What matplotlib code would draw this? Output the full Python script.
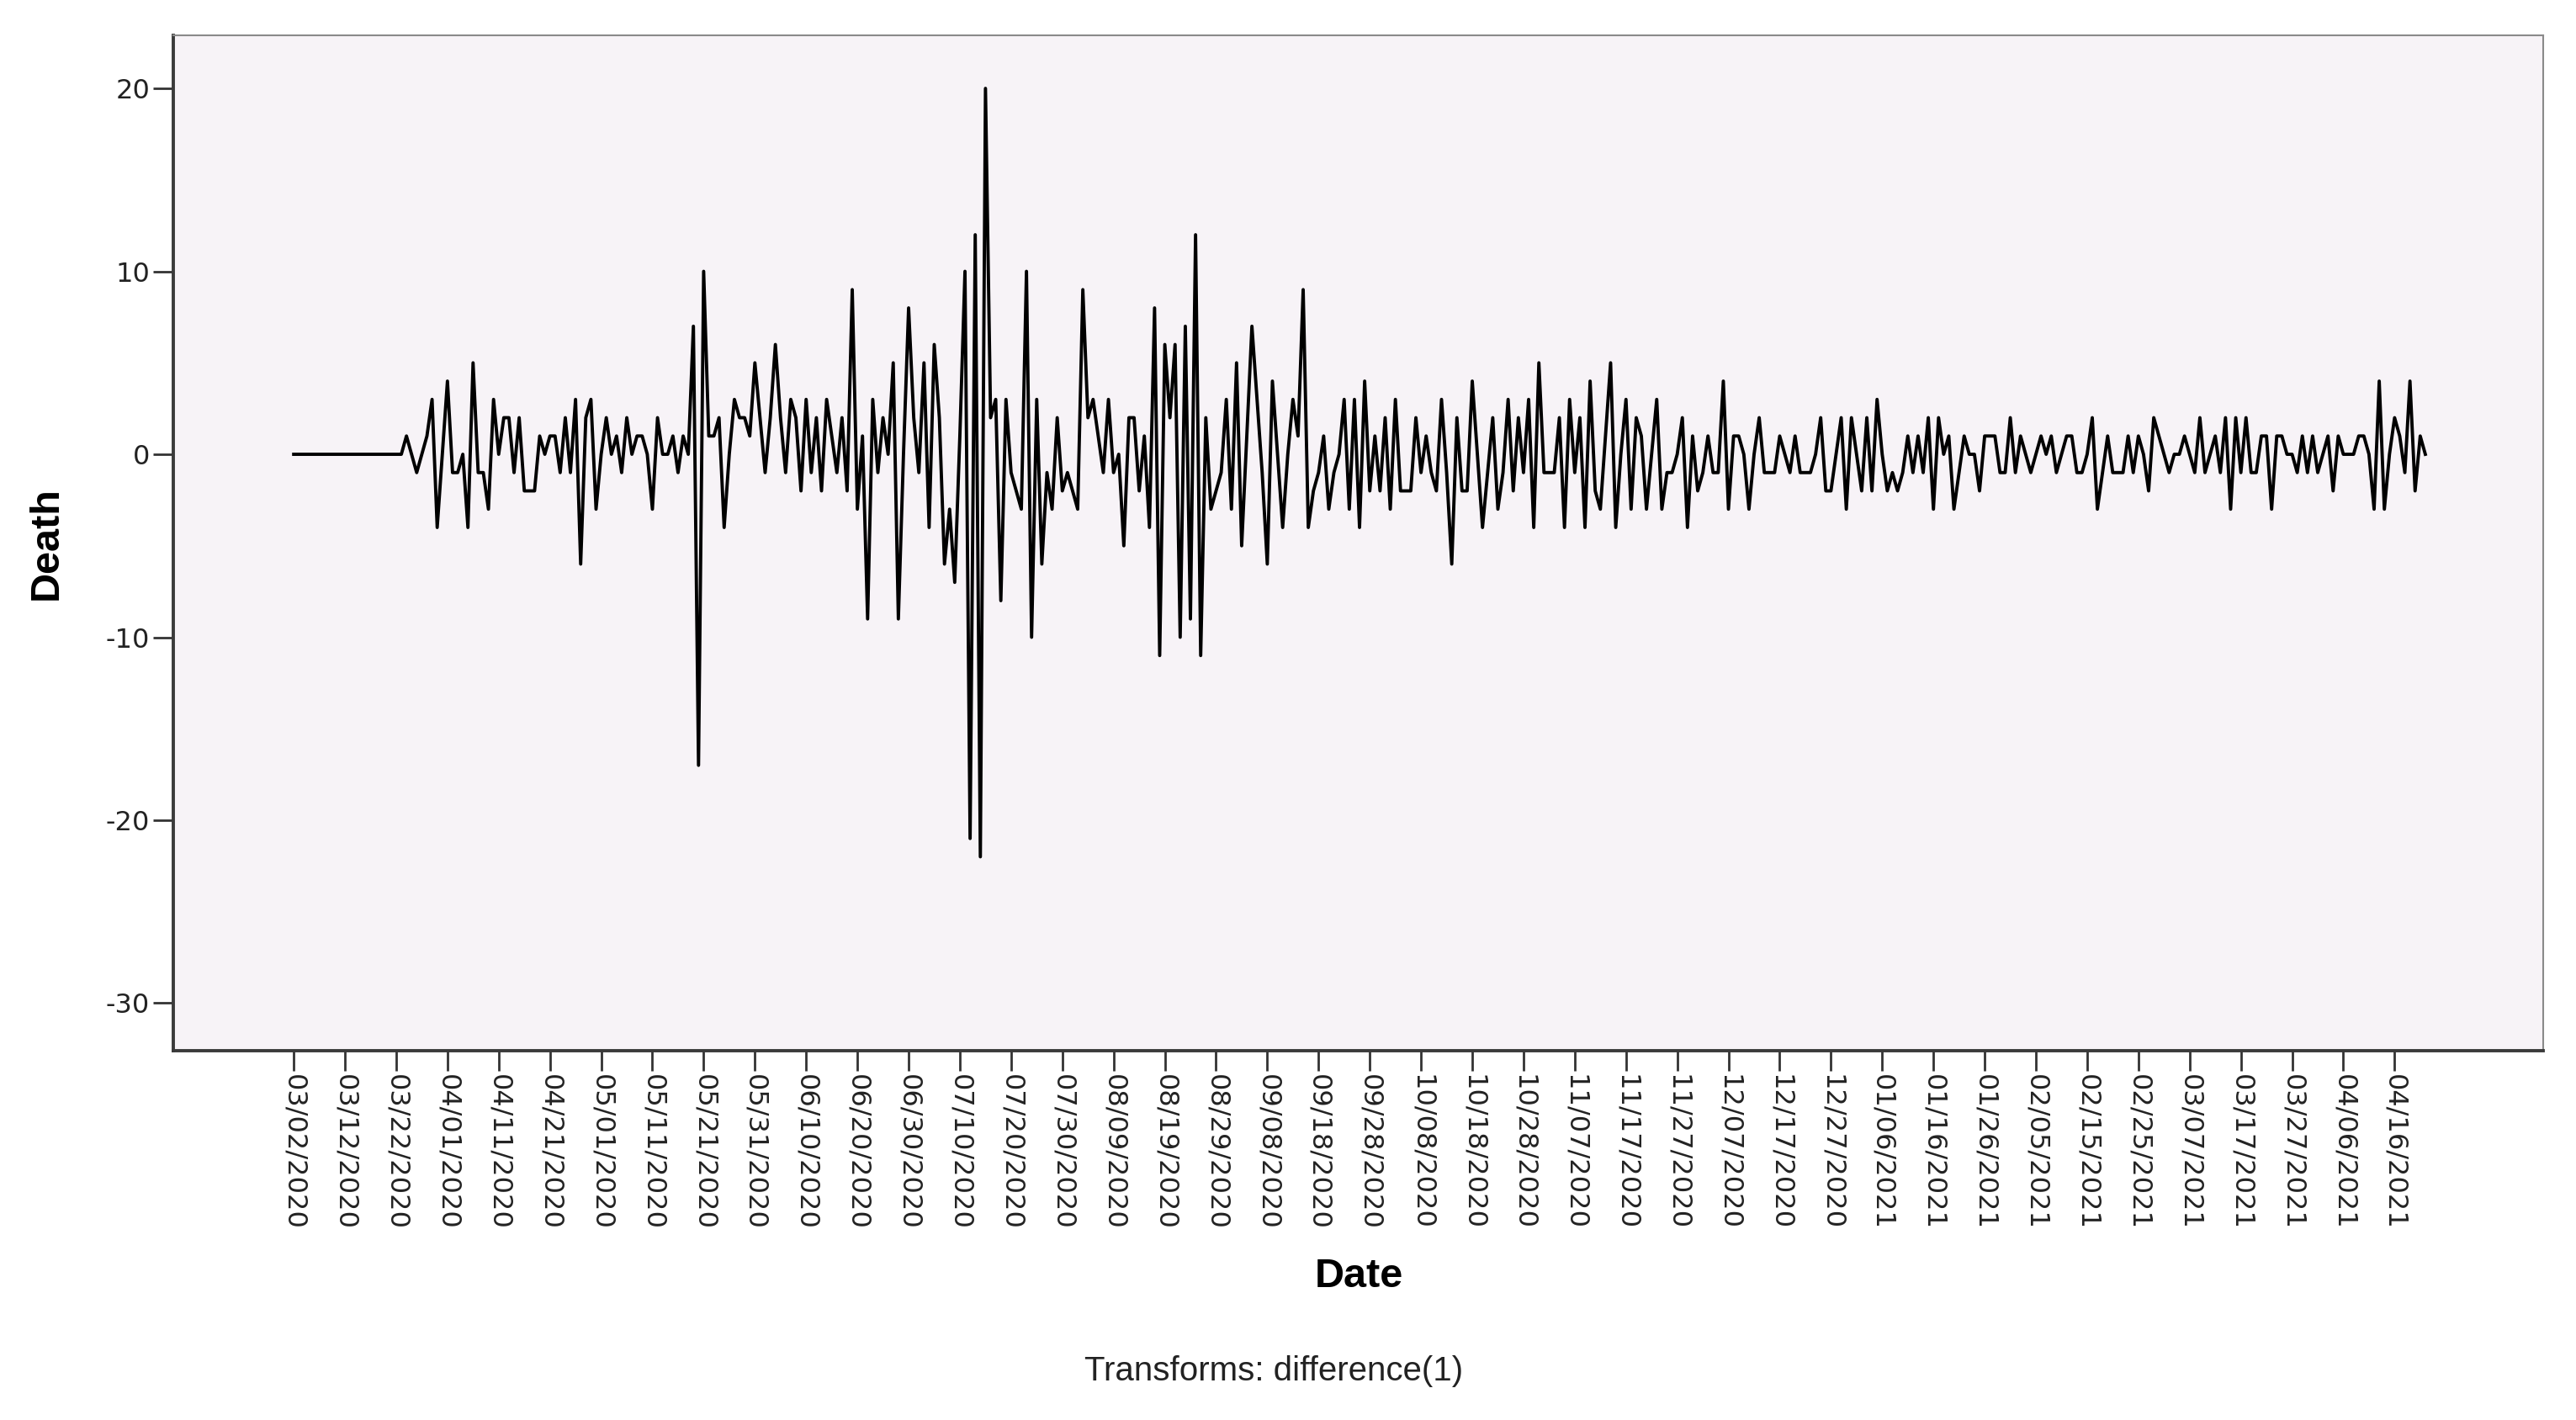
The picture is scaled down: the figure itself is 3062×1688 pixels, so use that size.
# first difference of daily deaths, redrawn as a time series line
import pandas as pd
import matplotlib.pyplot as plt

START_DATE = '2020-03-02'
LAST_TICK = '2021-04-16'

# daily values (one per day starting 03/02/2020)
death_diff = [
    0, 0, 0, 0, 0, 0, 0, 0, 0, 0, 0, 0, 0, 0, 0, 0, 0, 0, 0, 0, 0, 0,
    1, 0, -1, 0, 1, 3, -4, 0, 4, -1, -1, 0, -4, 5, -1, -1, -3, 3, 0, 2,
    2, -1, 2, -2, -2, -2, 1, 0, 1, 1, -1, 2, -1, 3, -6, 2, 3, -3, 0, 2,
    0, 1, -1, 2, 0, 1, 1, 0, -3, 2, 0, 0, 1, -1, 1, 0, 7, -17, 10, 1,
    1, 2, -4, 0, 3, 2, 2, 1, 5, 2, -1, 2, 6, 2, -1, 3, 2, -2, 3, -1,
    2, -2, 3, 1, -1, 2, -2, 9, -3, 1, -9, 3, -1, 2, 0, 5, -9, 0, 8, 2,
    -1, 5, -4, 6, 2, -6, -3, -7, 1, 10, -21, 12, -22, 20, 2, 3, -8, 3, -1, -2,
    -3, 10, -10, 3, -6, -1, -3, 2, -2, -1, -2, -3, 9, 2, 3, 1, -1, 3, -1, 0,
    -5, 2, 2, -2, 1, -4, 8, -11, 6, 2, 6, -10, 7, -9, 12, -11, 2, -3, -2, -1,
    3, -3, 5, -5, 1, 7, 3, -1, -6, 4, 0, -4, 0, 3, 1, 9, -4, -2, -1, 1,
    -3, -1, 0, 3, -3, 3, -4, 4, -2, 1, -2, 2, -3, 3, -2, -2, -2, 2, -1, 1,
    -1, -2, 3, -1, -6, 2, -2, -2, 4, 0, -4, -1, 2, -3, -1, 3, -2, 2, -1, 3,
    -4, 5, -1, -1, -1, 2, -4, 3, -1, 2, -4, 4, -2, -3, 1, 5, -4, 0, 3, -3,
    2, 1, -3, 0, 3, -3, -1, -1, 0, 2, -4, 1, -2, -1, 1, -1, -1, 4, -3, 1,
    1, 0, -3, 0, 2, -1, -1, -1, 1, 0, -1, 1, -1, -1, -1, 0, 2, -2, -2, 0,
    2, -3, 2, 0, -2, 2, -2, 3, 0, -2, -1, -2, -1, 1, -1, 1, -1, 2, -3, 2,
    0, 1, -3, -1, 1, 0, 0, -2, 1, 1, 1, -1, -1, 2, -1, 1, 0, -1, 0, 1,
    0, 1, -1, 0, 1, 1, -1, -1, 0, 2, -3, -1, 1, -1, -1, -1, 1, -1, 1, 0,
    -2, 2, 1, 0, -1, 0, 0, 1, 0, -1, 2, -1, 0, 1, -1, 2, -3, 2, -1, 2,
    -1, -1, 1, 1, -3, 1, 1, 0, 0, -1, 1, -1, 1, -1, 0, 1, -2, 1, 0, 0,
    0, 1, 1, 0, -3, 4, -3, 0, 2, 1, -1, 4, -2, 1, 0,
]
y_ticks = [20, 10, 0, -10, -20, -30]

dates = pd.date_range(START_DATE, periods=len(death_diff), freq='D')
tick_dates = pd.date_range(START_DATE, LAST_TICK, freq='10D')

W, H = 3062, 1688
fig = plt.figure(figsize=(W / 100, H / 100), dpi=100)
left, right, top, bottom = 206, 3023, 42, 1249
ax = fig.add_axes([left / W, 1 - bottom / H, (right - left) / W, (bottom - top) / H])
ax.set_facecolor('#f7f3f7')

ax.plot(dates, death_diff, color='black', linewidth=2.8)

start = pd.Timestamp(START_DATE)
ax.set_xlim(start - pd.Timedelta(days=23.5), start + pd.Timedelta(days=439))
ax.set_ylim(-32.6, 22.9)

ax.set_yticks(y_ticks)
ax.set_yticklabels([str(v) for v in y_ticks], fontsize=23, family='DejaVu Sans', color='#222222')
ax.set_xticks(tick_dates)
ax.set_xticklabels([d.strftime('%m/%d/%Y') for d in tick_dates], rotation=270,
                   fontsize=23, family='DejaVu Sans', color='#222222', ha='center', va='top')
ax.tick_params(axis='both', length=17, width=2, color='#333333', pad=3)

for side in ['left', 'bottom']:
    ax.spines[side].set_linewidth(2.8)
    ax.spines[side].set_color('#3a3a3a')
for side in ['top', 'right']:
    ax.spines[side].set_linewidth(1.5)
    ax.spines[side].set_color('#8a8a8a')

fig.text(55 / W, 1 - 646 / H, 'Death', rotation=90, ha='center', va='center',
         fontsize=35, fontweight='bold', family='Liberation Sans')
fig.text(1615 / W, 1 - 1517 / H, 'Date', ha='center', va='center',
         fontsize=35, fontweight='bold', family='Liberation Sans')
fig.text(1514 / W, 1 - 1630 / H, 'Transforms: difference(1)', ha='center', va='center',
         fontsize=29, family='Liberation Sans', color='#222222')

fig.savefig('out.png', dpi=100, facecolor='white')
